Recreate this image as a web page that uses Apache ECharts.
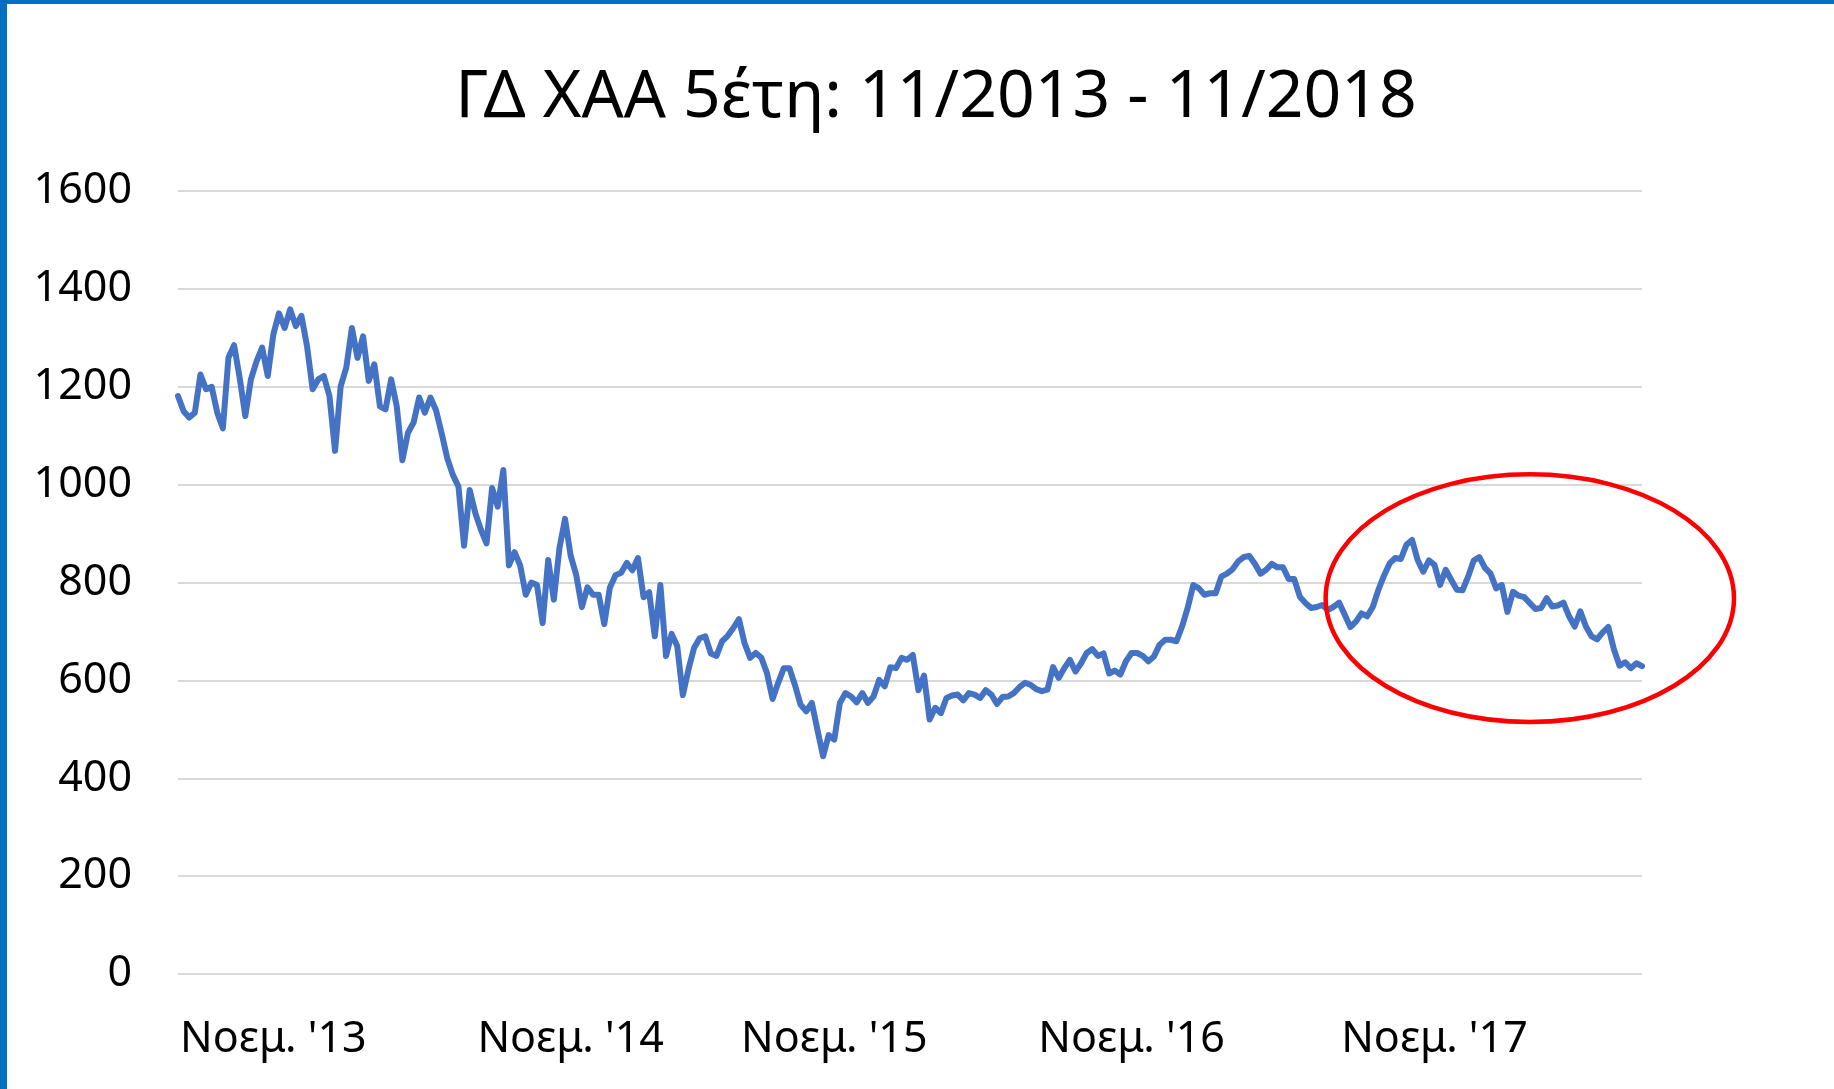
<!DOCTYPE html>
<html>
<head>
<meta charset="utf-8">
<script src="https://cdn.jsdelivr.net/npm/echarts@6/dist/echarts.min.js"></script>
<style>
  html, body { margin: 0; padding: 0; background: #ffffff; }
  #chart { width: 1834px; height: 1089px; }
  #frame { position: absolute; left: 0; top: 0; width: 1834px; height: 1089px; box-sizing: border-box;
           border-top: 4px solid #0070C0; border-left: 7px solid #0070C0; pointer-events: none; }
</style>
</head>
<body>
<div id="chart"></div>
<div id="frame"></div>
<script>
// Weekly closes of the Athens General Index, 11/2013 - 11/2018
const startDate = '2013-11-08';
const values = [
1181,1150,1137,1147,1225,1195,1200,1147,1115,1260,
1285,1218,1140,1215,1252,1280,1222,1307,1350,1320,
1358,1324,1345,1283,1195,1215,1222,1181,1069,1201,
1239,1320,1259,1303,1212,1246,1160,1154,1215,1160,
1050,1106,1127,1178,1147,1178,1152,1105,1054,1020,
996,875,989,942,908,880,993,955,1030,835,
862,835,775,800,795,717,846,765,870,930,
855,815,750,790,775,775,715,790,815,820,
840,825,850,770,780,690,795,650,695,670,
570,622,666,686,690,655,650,680,691,707,
725,676,646,656,646,615,562,595,625,625,
590,550,537,554,499,445,488,479,554,574,
567,555,574,554,567,601,588,627,625,646,
642,652,580,610,520,544,533,564,569,571,
559,574,571,564,580,571,552,566,567,574,
586,595,591,582,578,581,627,605,625,642,
618,635,656,664,650,655,614,620,612,639,
656,656,650,639,649,673,683,683,680,710,
748,795,788,775,778,778,812,818,827,843,
852,854,838,818,826,838,831,831,807,807,
771,758,748,750,754,744,750,759,734,709,
720,737,731,750,785,814,839,850,848,877,
887,846,822,845,836,795,826,805,785,784,
812,845,852,830,818,788,795,740,781,773,
770,758,746,748,768,751,753,759,731,710,
741,710,690,684,698,709,663,630,637,625,
635,629
];
// weekly category dates
const categories = [];
(function () {
  const d0 = new Date(startDate + 'T00:00:00Z');
  for (let i = 0; i < values.length; i++) {
    const d = new Date(d0.getTime() + i * 7 * 86400000);
    categories.push(d.toISOString().slice(0, 10));
  }
})();
const tickLabels = ["Νοεμ. '13", "Νοεμ. '14", "Νοεμ. '15", "Νοεμ. '16", "Νοεμ. '17"];
const tickIndex = [17, 70, 117, 170, 224];
const yTicks = [0, 200, 400, 600, 800, 1000, 1200, 1400, 1600];
// highlighted region (category index, value) and its half-extent
const highlightCenter = [241, 768];
const highlightHalf = [36.4, 253];

const FONT = '"Noto Sans", "Open Sans", sans-serif';
const chart = echarts.init(document.getElementById('chart'), null, { renderer: 'canvas' });
chart.setOption({
  animation: false,
  backgroundColor: '#ffffff',
  title: {
    text: 'ΓΔ ΧΑΑ 5έτη: 11/2013 - 11/2018',
    left: 931, top: 60, textAlign: 'center',
    textStyle: { fontFamily: FONT, fontSize: 66, fontWeight: 'normal', color: '#000000' }
  },
  grid: { left: 178, right: 192, top: 191, bottom: 115, containLabel: false },
  xAxis: {
    type: 'category',
    data: categories,
    boundaryGap: false,
    axisLine: { show: false },
    axisTick: { show: false },
    splitLine: { show: false },
    axisLabel: {
      interval: function (index) { return tickIndex.indexOf(index) >= 0; },
      formatter: function (value, index) {
        const k = tickIndex.indexOf(index);
        return k >= 0 ? tickLabels[k] : '';
      },
      margin: 44,
      fontFamily: FONT, fontSize: 43, color: '#000000'
    }
  },
  yAxis: {
    type: 'value',
    min: yTicks[0], max: yTicks[yTicks.length - 1], interval: 200,
    axisLine: { show: false },
    axisTick: { show: false },
    splitLine: { show: true, lineStyle: { color: '#D9D9D9', width: 2 } },
    axisLabel: {
      margin: 46, fontFamily: FONT, fontSize: 43, color: '#000000',
      formatter: function (v) { return String(v); }
    }
  },
  series: [{
    type: 'line',
    data: values,
    showSymbol: false,
    symbol: 'none',
    lineStyle: { color: '#4472C4', width: 6, cap: 'round', join: 'round' }
  }]
});

// red ellipse annotation, positioned through the axes
const c = chart.convertToPixel({ gridIndex: 0 }, highlightCenter);
const c1 = chart.convertToPixel({ gridIndex: 0 }, [highlightCenter[0] + 1, highlightCenter[1] + highlightHalf[1]]);
const rx = (c1[0] - c[0]) * highlightHalf[0];
const ry = c[1] - c1[1];
chart.setOption({
  graphic: [{
    type: 'ellipse',
    shape: { cx: c[0], cy: c[1], rx: rx, ry: ry },
    style: { fill: 'none', stroke: '#FF0000', lineWidth: 4.5 },
    z: 10
  }]
});
</script>
</body>
</html>
